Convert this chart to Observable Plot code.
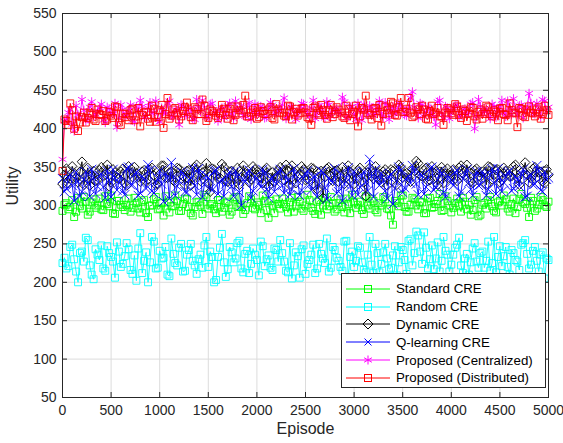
<!DOCTYPE html>
<html>
<head>
<meta charset="utf-8">
<script src="https://cdn.jsdelivr.net/npm/d3@7"></script>
<script src="https://cdn.jsdelivr.net/npm/@observablehq/plot@0.6"></script>
<style>
  html, body { margin: 0; padding: 0; background: #fff; }
  #wrap { position: relative; width: 563px; height: 443px; font-family: "Liberation Sans", Arial, sans-serif; }
  #legend { position: absolute; left: 341px; top: 273px; width: 205px; height: 115px; border: 1px solid #262626; background: #fff; box-sizing: border-box; padding-top: 6px; }
  .row { display: flex; align-items: center; height: 17.8px; }
  .row svg { margin-left: 4px; margin-right: 6px; }
  .row span { font-size: 13.3px; color: #000; white-space: nowrap; }
</style>
</head>
<body>
<div id="wrap"></div>
<script>
// ---- data ----
const episodeStep = 20; // episodes between plotted samples
const xTicks = [0, 500, 1000, 1500, 2000, 2500, 3000, 3500, 4000, 4500, 5000];
const yTicks = [50, 100, 150, 200, 250, 300, 350, 400, 450, 500, 550];
const seriesNames = ["Standard CRE", "Random CRE", "Dynamic CRE", "Q-learning CRE", "Proposed (Centralized)", "Proposed (Distributed)"];
const seriesColors = ["#00ff00", "#00ffff", "#000000", "#0000ff", "#ff00ff", "#ff0000"];
const seriesSymbols = ["square", "square", "diamond2", "times", "asterisk", "square"];

// samples at episodes 0, 40, 80, ... 5000
const standardCRE = [293,
 303,298,285,310,296,305,292,308,300,295,
 312,299,290,306,301,294,309,297,303,291,
 307,285,300,311,296,287,304,299,313,293,
 302,308,290,298,305,289,311,300,295,307,
 292,303,288,309,298,301,294,312,297,304,
 290,306,284,300,308,296,302,291,310,299,
 305,293,314,297,289,307,300,295,311,292,
 303,298,309,290,304,301,294,312,296,306,
 291,300,308,295,275,303,313,298,292,310,
 300,305,290,309,297,302,315,294,306,291,
 303,299,310,295,288,307,286,301,296,311,
 293,304,300,308,292,309,298,315,302,285,
 306,296,311,300,305];
// samples at episodes 20, 60, 100, ... 4980
const standardCREOdd = [
 301,295,307,292,299,311,288,304,297,309,
 294,302,313,289,306,298,301,292,310,296,
 305,290,300,308,295,303,312,291,299,306,
 293,309,298,287,304,300,314,296,302,290,
 307,297,305,292,311,299,289,303,308,295,
 301,313,294,306,290,302,309,298,304,292,
 311,296,300,307,293,305,288,310,299,303,
 295,308,291,302,314,297,305,289,300,309,
 294,303,311,296,287,306,299,313,292,301,
 308,295,304,290,310,298,306,293,312,300,
 297,309,292,305,301,294,311,288,303,307,
 299,291,306,313,296,302,290,308,304,297,
 310,293,301,307,298];

const randomCRE = [225,
 218,246,230,200,240,258,222,204,236,248,
 215,238,227,252,220,234,243,211,202,264,
 228,200,259,218,241,232,210,257,225,245,
 214,236,250,222,230,219,259,240,200,233,
 263,207,246,226,251,218,237,212,244,229,
 253,221,235,216,242,255,227,213,205,239,
 206,248,224,236,212,250,231,257,219,242,
 228,215,254,233,220,247,226,213,259,212,
 238,224,250,217,235,209,246,229,254,222,
 266,240,265,218,248,231,214,259,236,223,
 245,258,212,237,226,251,219,240,228,215,
 259,233,221,246,210,238,227,249,255,218,
 241,228,236,205,229];
const randomCREOdd = [
 232,221,249,214,238,227,255,210,243,229,
 218,247,233,206,240,224,251,216,235,244,
 212,239,226,253,219,231,246,208,237,222,
 250,215,242,228,211,236,248,220,233,203,
 245,226,217,239,231,254,213,241,224,236,
 209,247,230,219,244,227,238,215,251,222,
 234,243,211,229,249,218,237,225,214,246,
 232,220,253,207,240,228,245,216,236,223,
 250,213,239,231,219,247,226,242,211,256,
 238,261,224,245,230,217,252,228,241,214,
 236,249,222,231,210,244,227,238,219,253,
 225,213,247,234,220,242,229,216,251,237,
 223,246,214,239,231];

const dynamicCRE = [328,
 348,335,342,330,357,338,326,345,333,350,
 340,325,347,336,344,329,351,337,342,331,
 346,334,349,327,341,352,336,344,330,348,
 338,345,326,350,339,343,355,318,347,335,
 354,332,344,328,349,337,342,330,351,340,
 336,346,325,343,338,350,333,345,352,329,
 341,347,334,349,326,343,310,348,339,345,
 331,350,337,344,328,346,340,312,349,335,
 343,330,347,338,345,327,350,341,336,348,
 358,339,346,332,351,337,344,329,348,340,
 335,349,342,353,331,346,338,344,327,350,
 340,347,333,345,338,351,336,343,356,330,
 348,337,344,329,340];
const dynamicCREOdd = [
 340,329,351,336,344,327,349,339,332,346,
 338,353,330,343,335,348,326,341,350,337,
 344,331,347,339,328,352,336,343,333,349,
 341,327,346,337,353,332,344,329,348,339,
 336,350,331,345,338,327,352,341,334,347,
 343,329,349,336,331,346,340,353,327,344,
 338,351,333,342,348,321,345,337,350,332,
 346,339,328,352,341,335,349,330,343,338,
 351,334,344,326,347,340,353,336,342,331,
 345,355,338,349,333,343,327,350,341,336,
 347,332,352,339,344,329,348,337,342,351,
 334,346,330,349,341,338,353,327,345,340,
 336,350,343,331,347];

const qLearningCRE = [335,
 322,340,306,331,318,344,312,336,325,341,
 310,333,347,320,338,314,350,327,343,316,
 335,353,319,330,345,305,337,356,313,332,
 342,317,336,326,348,311,339,322,345,315,
 334,328,344,312,338,300,331,346,319,336,
 324,342,310,337,329,347,316,333,321,340,
 313,335,345,320,338,327,343,308,332,348,
 318,306,336,325,344,314,339,330,360,311,
 334,342,319,337,302,331,346,323,338,352,
 328,341,315,336,350,324,345,317,339,330,
 343,312,335,347,321,338,326,344,313,340,
 329,348,318,337,345,322,334,341,311,339,
 327,352,320,344,336];
const qLearningCREOdd = [
 318,337,326,343,312,334,329,347,315,339,
 324,345,311,336,330,319,348,327,341,313,
 338,322,346,316,335,328,342,309,337,325,
 344,318,333,349,314,340,327,336,320,346,
 331,312,339,325,345,317,334,342,310,338,
 329,347,321,335,318,343,326,339,314,348,
 332,320,341,327,337,311,345,323,336,330,
 316,342,328,349,313,335,324,344,319,338,
 347,326,333,309,341,322,350,317,336,329,
 345,314,339,324,348,320,334,342,311,337,
 326,346,318,341,330,313,344,327,339,321,
 348,315,336,330,343,319,338,325,347,312,
 340,328,345,318,334];

const proposedCentralized = [360,
 412,425,397,418,438,410,428,415,422,432,
 408,426,419,402,431,416,424,411,429,437,
 414,427,420,436,409,423,433,417,425,405,
 430,418,426,412,428,437,415,432,421,410,
 427,419,433,413,425,430,416,434,422,418,
 429,414,426,431,420,424,440,417,428,412,
 425,432,419,427,413,430,422,435,416,426,
 421,441,414,428,419,433,411,425,430,417,
 427,420,434,412,429,423,431,418,426,448,
 422,433,416,428,419,405,437,414,427,421,
 430,415,425,418,432,400,438,420,426,413,
 429,422,437,416,427,439,418,431,424,446,
 420,433,415,436,428];
const proposedCentralizedOdd = [
 410,421,406,430,416,424,413,435,419,427,
 411,428,420,433,414,425,418,431,409,423,
 429,416,434,421,412,427,419,436,415,424,
 431,417,426,413,438,422,428,416,433,420,
 425,414,430,419,436,423,417,428,412,432,
 421,427,415,434,419,426,431,413,429,422,
 418,433,425,416,437,420,428,414,431,423,
 426,419,435,417,429,412,424,432,418,427,
 421,436,415,430,424,419,433,426,417,440,
 428,414,431,422,427,416,435,420,429,413,
 425,431,418,426,421,434,416,429,423,419,
 432,415,428,421,436,418,425,430,414,427,
 433,419,426,438,422];

const proposedDistributed = [345,
 410,433,400,397,415,408,420,412,425,418,
 410,422,414,428,405,419,411,426,416,403,
 421,413,430,409,424,401,440,417,427,412,
 423,434,415,428,419,438,410,425,421,414,
 431,418,426,411,429,420,443,416,424,413,
 428,419,425,414,432,421,417,430,412,426,
 420,427,415,405,429,418,424,413,431,419,
 425,416,430,411,422,403,427,443,418,426,
 414,404,429,420,433,417,440,422,440,415,
 428,419,425,412,430,421,416,405,427,420,
 432,418,425,410,428,416,422,413,430,419,
 424,411,427,418,433,421,402,426,415,429,
 420,425,413,430,418];
const proposedDistributedOdd = [
 412,405,424,416,408,421,414,427,410,419,
 423,412,417,429,408,420,415,424,411,427,
 418,422,409,426,415,431,419,413,425,420,
 416,428,422,411,426,419,430,414,423,417,
 420,426,413,429,418,424,431,416,421,427,
 415,423,419,428,412,425,420,416,429,422,
 417,426,421,413,427,420,431,418,424,415,
 428,421,414,426,419,430,416,425,420,412,
 427,431,419,424,435,418,428,422,426,421,
 417,425,430,413,423,419,427,416,421,425,
 418,429,414,423,420,427,412,425,419,428,
 416,422,426,419,411,424,420,427,417,425,
 421,416,428,419,424];

const seriesEven = [standardCRE, randomCRE, dynamicCRE, qLearningCRE, proposedCentralized, proposedDistributed];
const seriesOdd = [standardCREOdd, randomCREOdd, dynamicCREOdd, qLearningCREOdd, proposedCentralizedOdd, proposedDistributedOdd];

// ---- build table (interleave the two sample sets) ----
const rows = [];
seriesEven.forEach((even, s) => {
  const odd = seriesOdd[s];
  even.forEach((v, i) => {
    rows.push({series: seriesNames[s], episode: 2 * i * episodeStep, utility: v});
    if (i < odd.length) rows.push({series: seriesNames[s], episode: (2 * i + 1) * episodeStep, utility: odd[i]});
  });
});

const xTickLen = 5000 / 486 * 5;   // ~5px inward tick
const yTickLen = 500 / 384 * 5;

const marks = [
  Plot.gridX(xTicks, {stroke: "#dcdcdc", strokeOpacity: 1, strokeWidth: 1}),
  Plot.gridY(yTicks, {stroke: "#dcdcdc", strokeOpacity: 1, strokeWidth: 1}),
];
seriesNames.forEach((name, s) => {
  const data = rows.filter(d => d.series === name);
  marks.push(Plot.line(data, {x: "episode", y: "utility", stroke: seriesColors[s], strokeWidth: 0.9}));
  marks.push(Plot.dot(data, {x: "episode", y: "utility", stroke: seriesColors[s], symbol: () => seriesSymbols[s], r: seriesSymbols[s] === "square" ? 3.9 : 4.3, strokeWidth: 0.9, fill: "none"}));
});
marks.push(
  Plot.ruleY(yTicks, {y: d => d, x1: 0, x2: xTickLen, stroke: "#262626"}),
  Plot.ruleY(yTicks, {y: d => d, x1: 5000 - xTickLen, x2: 5000, stroke: "#262626"}),
  Plot.ruleX(xTicks, {x: d => d, y1: 50, y2: 50 + yTickLen, stroke: "#262626"}),
  Plot.ruleX(xTicks, {x: d => d, y1: 550 - yTickLen, y2: 550, stroke: "#262626"}),
  Plot.frame({stroke: "#262626", strokeWidth: 1}),
  Plot.axisX(xTicks, {tickSize: 0, tickPadding: 8, label: null, fontSize: 14, fill: "#262626", tickFormat: d => String(d)}),
  Plot.axisY(yTicks, {tickSize: 0, tickPadding: 6, label: null, fontSize: 14, fill: "#262626", tickFormat: d => String(d)}),
  Plot.text(["Episode"], {frameAnchor: "bottom", dy: 36, fontSize: 16, fill: "#262626"}),
  Plot.text(["Utility"], {frameAnchor: "left", dx: -50, rotate: -90, fontSize: 16, fill: "#262626"})
);

const chart = Plot.plot({
  width: 563,
  height: 443,
  marginLeft: 62,
  marginRight: 15,
  marginTop: 13,
  marginBottom: 46,
  x: {domain: [0, 5000]},
  y: {domain: [50, 550]},
  style: {fontFamily: "'Liberation Sans', Arial, sans-serif", background: "#fff", overflow: "visible"},
  marks
});
const wrap = document.getElementById("wrap");
wrap.appendChild(chart);

// ---- legend ----
const glyph = {
  square: '<rect x="-3.5" y="-3.5" width="7" height="7" fill="none"/>',
  diamond2: '<path d="M0,-5L5,0L0,5L-5,0Z" fill="none"/>',
  times: '<path d="M-3.5,-3.5L3.5,3.5M-3.5,3.5L3.5,-3.5"/>',
  asterisk: '<path d="M0,-4.5V4.5M-3.9,-2.25L3.9,2.25M-3.9,2.25L3.9,-2.25"/>'
};
const legend = document.createElement("div");
legend.id = "legend";
legend.innerHTML = seriesNames.map((n, s) =>
  `<div class="row"><svg width="44" height="14"><g stroke="${seriesColors[s]}" stroke-width="1"><line x1="0" y1="7" x2="44" y2="7"/><g transform="translate(22,7)">${glyph[seriesSymbols[s]]}</g></g></svg><span>${n}</span></div>`
).join("");
wrap.appendChild(legend);
</script>
</body>
</html>
